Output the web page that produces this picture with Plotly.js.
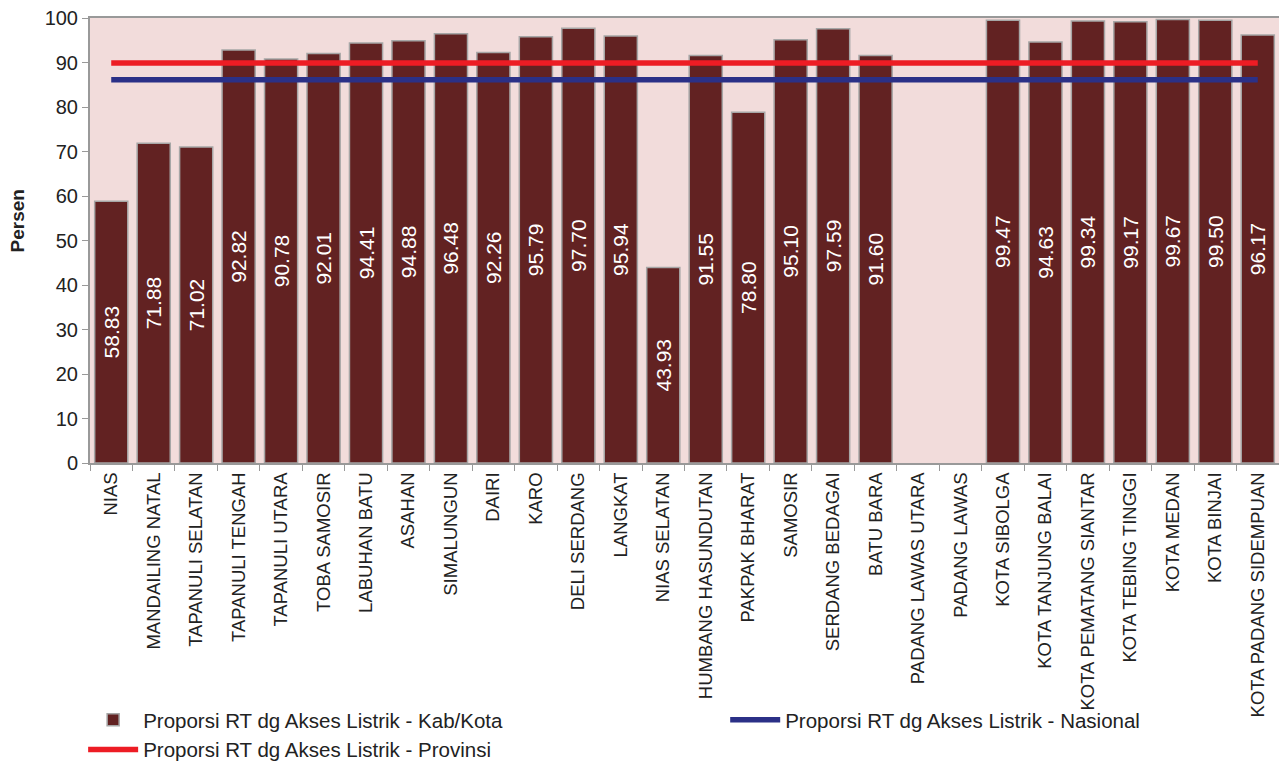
<!DOCTYPE html>
<html>
<head>
<meta charset="utf-8">
<script src="https://cdn.plot.ly/plotly-3.0.1.min.js"></script>
<style>html,body{margin:0;padding:0;background:#fff;}#chart{width:1279px;height:765px;}</style>
</head>
<body>
<div id="chart"></div>
<script>
const categories = ["NIAS","MANDAILING NATAL","TAPANULI SELATAN","TAPANULI TENGAH","TAPANULI UTARA","TOBA SAMOSIR","LABUHAN BATU","ASAHAN","SIMALUNGUN","DAIRI","KARO","DELI SERDANG","LANGKAT","NIAS SELATAN","HUMBANG HASUNDUTAN","PAKPAK BHARAT","SAMOSIR","SERDANG BEDAGAI","BATU BARA","PADANG LAWAS UTARA","PADANG LAWAS","KOTA SIBOLGA","KOTA TANJUNG BALAI","KOTA PEMATANG SIANTAR","KOTA TEBING TINGGI","KOTA MEDAN","KOTA BINJAI","KOTA PADANG SIDEMPUAN"];
const kabKota = [58.83,71.88,71.02,92.82,90.78,92.01,94.41,94.88,96.48,92.26,95.79,97.70,95.94,43.93,91.55,78.80,95.10,97.59,91.60,null,null,99.47,94.63,99.34,99.17,99.67,99.50,96.17];
const nasionalValue = 86.1;
const provinsiValue = 89.9;
const nasional = categories.map(() => nasionalValue);
const provinsi = categories.map(() => provinsiValue);
const yTicks = [0,10,20,30,40,50,60,70,80,90,100];
const yTitle = "Persen";

const FONT = "Liberation Sans, Arial, sans-serif";

const traces = [
  {
    type: "bar", name: "Proporsi RT dg Akses Listrik - Kab/Kota", legend: "legend",
    x: categories, y: kabKota,
    text: kabKota.map(v => v == null ? "" : v.toFixed(2)),
    textposition: "inside", insidetextanchor: "middle", textangle: -90,
    textfont: {color: "#ffffff", size: 21, family: FONT},
    marker: {color: "#622222", line: {color: "#a6a6a6", width: 1.5}},
    cliponaxis: false, hoverinfo: "x+y"
  },
  {
    type: "scatter", mode: "lines", name: "Proporsi RT dg Akses Listrik - Nasional", legend: "legend2",
    x: categories, y: nasional,
    line: {color: "#2b3087", width: 5.5}
  },
  {
    type: "scatter", mode: "lines", name: "Proporsi RT dg Akses Listrik - Provinsi", legend: "legend",
    x: categories, y: provinsi,
    line: {color: "#ed1c24", width: 5.5}
  }
];

const legendCommon = {
  orientation: "v", xref: "container", yref: "container",
  xanchor: "left", yanchor: "top",
  font: {size: 20.5, family: FONT, color: "#222"},
  tracegroupgap: 0, itemwidth: 50, bgcolor: "rgba(0,0,0,0)", traceorder: "normal"
};

const layout = {
  width: 1279, height: 765,
  paper_bgcolor: "#ffffff", plot_bgcolor: "#f2dcdb",
  margin: {l: 90, r: 0, t: 18, b: 302, autoexpand: false},
  font: {family: FONT, color: "#222222"},
  bargap: 0.22,
  showlegend: true,
  xaxis: {
    type: "category", categoryorder: "array", categoryarray: categories,
    tickangle: -90, tickfont: {size: 18.5, family: FONT, color: "#222"},
    showline: true, linecolor: "#999999", linewidth: 2,
    mirror: true, ticks: "outside", tickson: "boundaries", ticklen: 6, tickcolor: "#999999",
    showgrid: false, zeroline: false, fixedrange: true
  },
  yaxis: {
    range: [0, 100], tickvals: yTicks, ticktext: yTicks.map(String),
    tickfont: {size: 20, family: FONT, color: "#222"},
    showline: true, linecolor: "#999999", linewidth: 2,
    ticks: "outside", ticklen: 6, tickcolor: "#999999",
    showgrid: false, zeroline: false, fixedrange: true
  },
  annotations: [{
    text: "<b>" + yTitle + "</b>", textangle: -90,
    xref: "paper", yref: "paper", x: -0.0614, y: 0.545,
    xanchor: "center", yanchor: "middle", showarrow: false,
    font: {size: 19, family: FONT, color: "#222"}
  }],
  legend: Object.assign({}, legendCommon, {x: 0.065, y: 0.085}),
  legend2: Object.assign({}, legendCommon, {x: 0.567, y: 0.085})
};

Plotly.newPlot("chart", traces, layout, {displayModeBar: false, staticPlot: true});
</script>
</body>
</html>
